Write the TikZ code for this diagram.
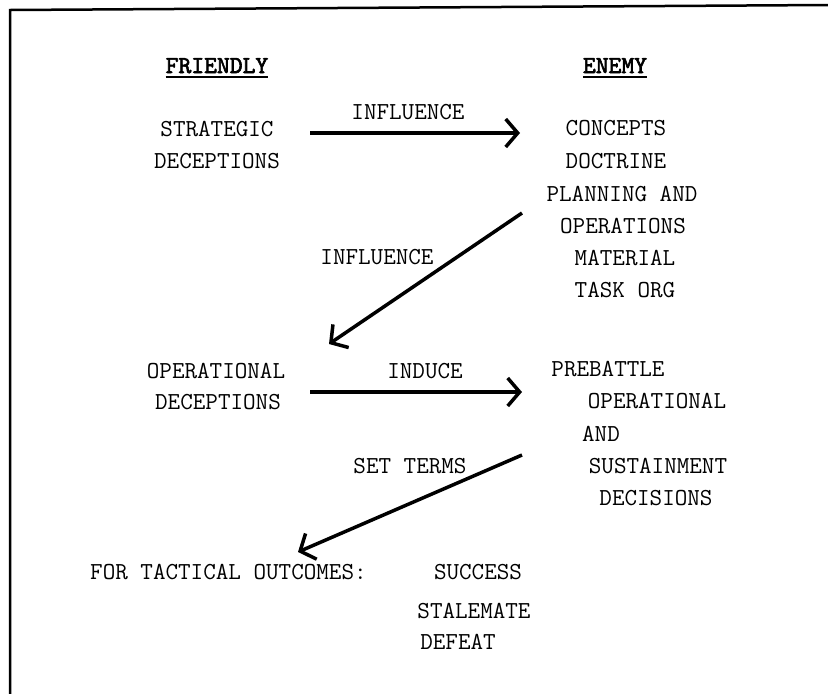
\documentclass[tikz,border=0pt]{standalone}
\usepackage{fontspec}
\newfontfamily\headfont{lmmono10-regular.otf}[FakeBold=2.5]
\usetikzlibrary{arrows.meta}
\tikzset{
  lbl/.style={font=\ttfamily\fontsize{24.4}{29}\selectfont, anchor=base, inner sep=0pt},
  head/.style={lbl, font=\headfont\fontsize{24.4}{29}\selectfont},
  flow/.style={line width=3.5pt, -{Straight Barb[length=12pt,width=28pt]}},
}

\begin{document}
\begin{tikzpicture}[x=1pt, y=-1pt]
\useasboundingbox (0,0) rectangle (828,694);
% frame
\draw[line width=2.5pt] (10,694) -- (10,10) -- (828,5);

% column heads
\node[head] (friendly) at (217,73) {FRIENDLY};
\node[head] (enemy) at (615,73) {ENEMY};
\draw[line width=2pt] ([yshift=-4pt]friendly.south west) -- ([yshift=-4pt]friendly.south east);
\draw[line width=2pt] ([yshift=-4pt]enemy.south west) -- ([yshift=-4pt]enemy.south east);

% friendly side
\node[lbl] (strat1) at (217,136) {STRATEGIC};
\node[lbl] (strat2) at (217,168) {DECEPTIONS};
\node[lbl] (oper1) at (216,378) {OPERATIONAL};
\node[lbl] (oper2) at (218,409) {DECEPTIONS};

% enemy side
\node[lbl] (concepts) at (616,135) {CONCEPTS};
\node[lbl] (doctrine) at (616,168) {DOCTRINE};
\node[lbl] (planning) at (622,201) {PLANNING AND};
\node[lbl] (operations) at (623,233) {OPERATIONS};
\node[lbl] (material) at (625,265) {MATERIAL};
\node[lbl] (taskorg) at (625,297) {TASK ORG};

\node[lbl] (prebattle) at (608,376) {PREBATTLE};
\node[lbl] (operational) at (657,408) {OPERATIONAL};
\node[lbl] (and) at (601,441) {AND};
\node[lbl] (sustain) at (658,473) {SUSTAINMENT};
\node[lbl] (decisions) at (656,505) {DECISIONS};

% outcomes
\node[lbl, anchor=base west] (outcomes) at (90,579) {FOR TACTICAL OUTCOMES:};
\node[lbl] (success) at (478,579) {SUCCESS};
\node[lbl] (stalemate) at (474,618) {STALEMATE};
\node[lbl] (defeat) at (458,649) {DEFEAT};

% arrow labels
\node[lbl] (infl1) at (408,119) {INFLUENCE};
\node[lbl] (infl2) at (377,264) {INFLUENCE};
\node[lbl] (induce) at (425,378) {INDUCE};
\node[lbl] (setterms) at (410,473) {SET TERMS};

% arrows
\coordinate (a1s) at (310,133);
\coordinate (a1e) at (520,133);
\coordinate (a2s) at (522,213);
\coordinate (a2e) at (329,344);
\coordinate (a3s) at (310,392);
\coordinate (a3e) at (522,392);
\coordinate (a4s) at (522,455);
\coordinate (a4e) at (298,552);
\draw[flow] (a1s) -- (a1e);
\draw[flow] (a2s) -- (a2e);
\draw[flow] (a3s) -- (a3e);
\draw[flow] (a4s) -- (a4e);

\end{tikzpicture}
\end{document}
